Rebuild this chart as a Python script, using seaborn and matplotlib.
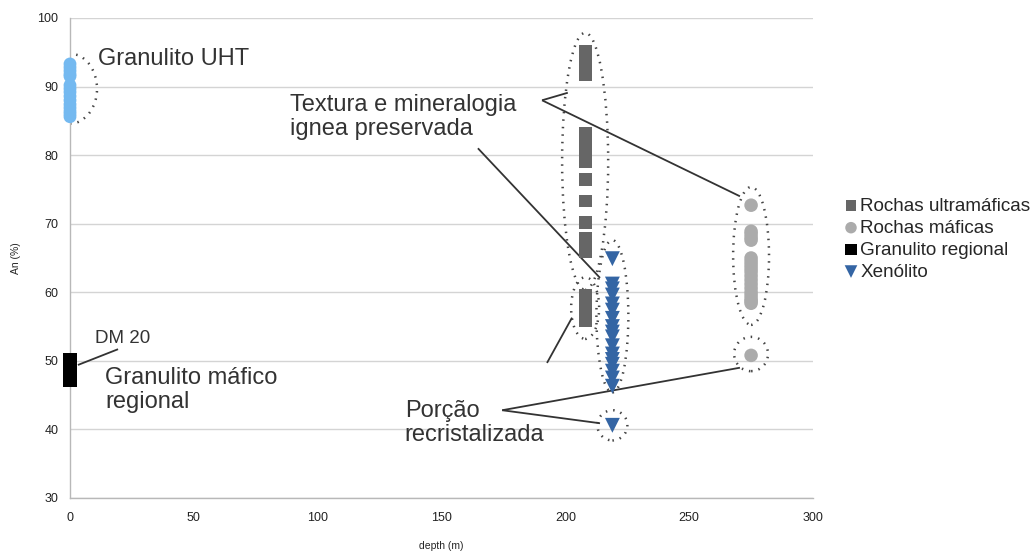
import matplotlib
matplotlib.use("Agg")
import matplotlib.pyplot as plt
from matplotlib.patches import Ellipse
import seaborn as sns

# Sample series: depth (m) and anorthite content An (%)
uht_depth = [0] * 15
uht_an = [93.3, 92.8, 92.3, 91.8, 91.5,
          90.2, 89.7, 89.2, 88.6, 88.0, 87.4, 86.9, 86.4, 86.0, 85.6]

ultra_depth = [208] * 23
ultra_an = [95.2, 94.5, 93.8, 93.0, 92.4, 91.8,
            83.1, 82.3, 81.5, 80.7, 79.9, 79.0,
            76.4, 73.3, 70.2,
            67.9, 66.9, 65.9,
            59.5, 58.6, 57.7, 56.7, 55.8]

mafic_depth = [275] * 20
mafic_an = [72.7,
            68.9, 68.5, 68.0, 67.6,
            65.0, 64.5, 64.0, 63.5, 63.0, 62.4, 61.8, 61.2, 60.6, 60.0,
            59.5, 59.0, 58.7, 58.4,
            50.8]

regional_depth = [0, 0, 0, 0]
regional_an = [50.1, 49.2, 48.2, 47.2]

xeno_depth = [219] * 18
xeno_an = [64.9, 61.2, 60.5, 59.6, 58.3, 57.4, 56.2, 55.0, 54.2, 53.5, 52.2,
           51.0, 50.2, 49.5, 48.5, 47.5, 46.3, 40.6]

legend_labels = ["Rochas ultramáficas", "Rochas máficas",
                 "Granulito regional", "Xenólito"]

sns.set_style("white")
plt.rcParams["font.family"] = ["Liberation Sans", "DejaVu Sans"]

fig = plt.figure(figsize=(10.36, 5.52), dpi=100)
ax = fig.add_axes([70 / 1036, 1 - 498 / 552, (813 - 70) / 1036, (498 - 18) / 552])

ax.set_xlim(0, 300)
ax.set_ylim(30, 100)
ax.set_yticks(range(30, 101, 10))
ax.set_xticks(range(0, 301, 50))
ax.grid(axis="y", color="#d4d4d4", lw=1)
ax.grid(axis="x", visible=False)
ax.set_axisbelow(True)
for s in ["top", "right"]:
    ax.spines[s].set_visible(False)
for s in ["left", "bottom"]:
    ax.spines[s].set_color("#b8b8b8")
    ax.spines[s].set_linewidth(1)
ax.tick_params(axis="both", length=5, width=1, color="#b8b8b8",
               labelsize=9, labelcolor="#222222", direction="out")
ax.tick_params(axis="x", pad=5)
ax.set_xlabel("depth (m)", fontsize=7.5, labelpad=12)
ax.set_ylabel("An (%)", fontsize=7.5, labelpad=12)

kw = dict(ax=ax, edgecolor="none", linewidth=0, clip_on=False, zorder=3)
sns.scatterplot(x=uht_depth, y=uht_an, marker="o", color="#74b9f0", s=85, **kw)
sns.scatterplot(x=ultra_depth, y=ultra_an, marker="s", color="#666666", s=85,
                label=legend_labels[0], **kw)
sns.scatterplot(x=mafic_depth, y=mafic_an, marker="o", color="#ababab", s=95,
                label=legend_labels[1], **kw)
sns.scatterplot(x=regional_depth, y=regional_an, marker="s", color="#000000", s=95,
                label=legend_labels[2], **kw)
sns.scatterplot(x=xeno_depth, y=xeno_an, marker="v", color="#3465a4", s=115,
                label=legend_labels[3], **kw)

handles, labels = ax.get_legend_handles_labels()
ax.get_legend().remove()
fig.legend(handles, labels, loc="center left",
           bbox_to_anchor=(834 / 1036, 1 - 239 / 552), frameon=False,
           fontsize=13.6, handletextpad=0.1, labelspacing=0.25,
           handlelength=0.8, borderpad=0, markerscale=0.85)

# dotted outlines grouping the samples
dot = dict(fill=False, edgecolor="#444444", lw=1.8, linestyle=(0, (0.6, 2.4)),
           zorder=2)
for (cx, cy, w, h) in [(0, 89.7, 21.8, 10.2),
                       (208, 79.1, 18.6, 37.5),
                       (208, 57.7, 11.3, 9.0),
                       (219, 56.5, 12.9, 22.2),
                       (219, 40.6, 12.1, 4.4),
                       (275, 65.3, 14.5, 20.1),
                       (275, 51.0, 13.7, 5.0)]:
    ax.add_patch(Ellipse((cx, cy), w, h, **dot))

line = dict(color="#333333", lw=1.3, zorder=2, solid_capstyle="butt")
for (x0, y0, x1, y1) in [(190.6, 88.0, 201.0, 89.1),
                         (190.6, 88.0, 270.5, 74.0),
                         (164.7, 81.0, 214.0, 62.1),
                         (192.6, 49.7, 202.7, 56.3),
                         (174.5, 42.8, 270.5, 49.0),
                         (174.5, 42.8, 214.0, 40.9),
                         (3.2, 49.4, 19.4, 51.7)]:
    ax.plot([x0, x1], [y0, y1], **line)

txt = dict(color="#333333", ha="left", va="center", linespacing=1.1, zorder=4)
ax.text(11.3, 94.0, "Granulito UHT", fontsize=17, **txt)
ax.text(88.8, 85.6, "Textura e mineralogia\nignea preservada", fontsize=17, **txt)
ax.text(10.1, 53.2, "DM 20", fontsize=13.5, **txt)
ax.text(14.1, 45.7, "Granulito máfico\nregional", fontsize=17, **txt)
ax.text(135.2, 40.9, "Porção\nrecristalizada", fontsize=17, **txt)

fig.savefig("out.png", dpi=100)
